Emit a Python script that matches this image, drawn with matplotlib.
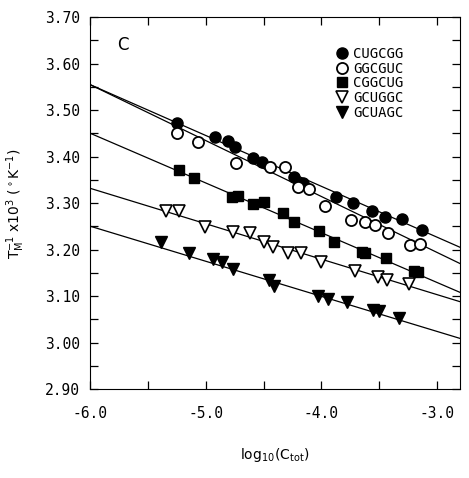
import numpy as np
import matplotlib
matplotlib.use('Agg')
import matplotlib.pyplot as plt
from matplotlib.ticker import MultipleLocator, FormatStrFormatter

# log10(Ctot) and 1/Tm x 10^3
x_cugcgg = [-5.25, -4.92, -4.81, -4.75, -4.59, -4.51, -4.24, -4.16, -3.87, -3.73, -3.56, -3.45, -3.30, -3.13]
y_cugcgg = [3.472, 3.442, 3.433, 3.420, 3.397, 3.388, 3.356, 3.343, 3.313, 3.300, 3.283, 3.270, 3.266, 3.242]

x_ggcguc = [-5.25, -5.07, -4.74, -4.44, -4.31, -4.20, -4.11, -3.97, -3.74, -3.62, -3.54, -3.42, -3.23, -3.15]
y_ggcguc = [3.451, 3.431, 3.386, 3.377, 3.377, 3.334, 3.330, 3.294, 3.263, 3.259, 3.253, 3.235, 3.210, 3.212]

x_cggcug = [-5.23, -5.10, -4.77, -4.72, -4.59, -4.50, -4.33, -4.24, -4.02, -3.89, -3.65, -3.62, -3.44, -3.20, -3.16]
y_cggcug = [3.371, 3.354, 3.313, 3.315, 3.298, 3.302, 3.278, 3.259, 3.240, 3.216, 3.195, 3.192, 3.182, 3.154, 3.152]

x_gcuggc = [-5.34, -5.23, -5.01, -4.76, -4.62, -4.50, -4.42, -4.29, -4.18, -4.00, -3.71, -3.51, -3.43, -3.24]
y_gcuggc = [3.283, 3.283, 3.248, 3.238, 3.235, 3.216, 3.205, 3.192, 3.192, 3.173, 3.154, 3.141, 3.134, 3.126]

x_gcuagc = [-5.39, -5.14, -4.94, -4.86, -4.76, -4.45, -4.41, -4.03, -3.94, -3.78, -3.55, -3.50, -3.33]
y_gcuagc = [3.216, 3.192, 3.180, 3.173, 3.158, 3.134, 3.121, 3.100, 3.094, 3.087, 3.070, 3.068, 3.053]

# fitted lines, values at the two ends of the x axis
fit_x = [-6.0, -2.8]
fit_cugcgg = [3.555, 3.205]
fit_ggcguc = [3.555, 3.170]
fit_cggcug = [3.4505, 3.108]
fit_gcuggc = [3.332, 3.088]
fit_gcuagc = [3.2505, 3.009]

mono = 'DejaVu Sans Mono'

fig = plt.figure(figsize=(4.69, 4.78), dpi=100)
ax = fig.add_axes([0.192, 0.186, 0.789, 0.778])

for fy in [fit_cugcgg, fit_ggcguc, fit_cggcug, fit_gcuggc, fit_gcuagc]:
    ax.plot(fit_x, fy, color='black', lw=0.9)

ax.plot(x_cugcgg, y_cugcgg, 'o', color='black', ms=8, ls='none', label='CUGCGG')
ax.plot(x_ggcguc, y_ggcguc, 'o', mfc='white', mec='black', mew=1.3, ms=8, ls='none', label='GGCGUC')
ax.plot(x_cggcug, y_cggcug, 's', color='black', ms=7.5, ls='none', label='CGGCUG')
ax.plot(x_gcuggc, y_gcuggc, 'v', mfc='white', mec='black', mew=1.2, ms=8.5, ls='none', label='GCUGGC')
ax.plot(x_gcuagc, y_gcuagc, 'v', color='black', ms=8.5, ls='none', label='GCUAGC')

ax.set_xlim(-6.0, -2.8)
ax.set_ylim(2.90, 3.70)
ax.xaxis.set_major_locator(MultipleLocator(1.0))
ax.xaxis.set_minor_locator(MultipleLocator(0.5))
ax.yaxis.set_major_locator(MultipleLocator(0.1))
ax.yaxis.set_minor_locator(MultipleLocator(0.05))
ax.xaxis.set_major_formatter(FormatStrFormatter('%.1f'))
ax.yaxis.set_major_formatter(FormatStrFormatter('%.2f'))
ax.tick_params(which='both', direction='in', top=True, right=True, length=6, width=0.9)
ax.tick_params(axis='x', pad=12)
ax.tick_params(axis='y', pad=7)
for lab in ax.get_xticklabels() + ax.get_yticklabels():
    lab.set_fontfamily(mono)
    lab.set_fontsize(10.5)

ax.set_xlabel(r'log$_{10}$(C$_{\mathrm{tot}}$)', fontsize=10)
ax.set_ylabel(r'T$_\mathrm{M}^{-1}$ x10$^3$ ($^\circ$K$^{-1}$)', fontsize=10)
ax.xaxis.set_label_coords(0.5, -0.152)
ax.yaxis.set_label_coords(-0.171, 0.5)

ax.text(0.089, 0.925, 'C', transform=ax.transAxes, fontsize=12, ha='center', va='center')

ax.legend(loc='upper left', bbox_to_anchor=(0.665, 0.92), frameon=False,
          prop={'family': mono, 'size': 10}, handlelength=0.8, handletextpad=0.45,
          labelspacing=0.05, borderpad=0, borderaxespad=0, markerscale=1.0)

fig.savefig('out.png')
